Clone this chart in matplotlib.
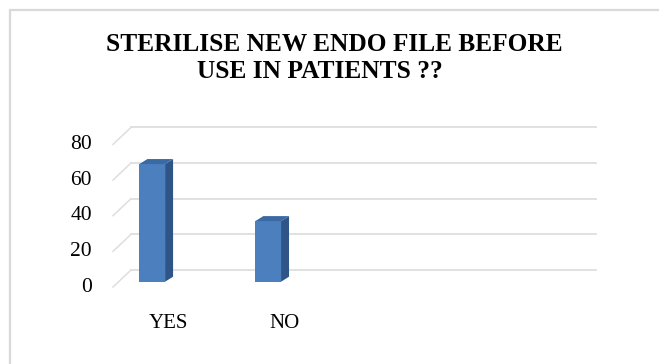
import matplotlib.pyplot as plt
from matplotlib.patches import Rectangle, Polygon

# data
categories = ["YES", "NO"]
values = [66, 34]
n_slots = 4          # the original chart keeps room for 4 categories
y_ticks = [0, 20, 40, 60, 80]
title_1 = "STERILISE NEW ENDO FILE BEFORE"
title_2 = "USE IN PATIENTS ??"

W, H, DPI = 659, 364, 100
fig = plt.figure(figsize=(W / DPI, H / DPI), dpi=DPI)
plt.rcParams['font.family'] = ['Liberation Serif', 'DejaVu Serif']

# front plane of the fake 3D box (pixels)
x_left, x_right = 113, 578
y_zero, y_top = 287, 144.4
ax = fig.add_axes([x_left / W, (H - y_zero) / H, (x_right - x_left) / W, (y_zero - y_top) / H])
xmin, xmax = -0.29, n_slots - 0.28
ax.set_xlim(xmin, xmax)
ax.set_ylim(0, 80)
ax.axis('off')

kx = (x_right - x_left) / (xmax - xmin)   # px per category unit
ky = (y_zero - y_top) / 80                # px per value unit

# wall depth (px)
wall_dx, wall_dy = 18 / kx, 17 / ky
grid_col = '#dedede'

for v in y_ticks:
    # side wall diagonal + back wall line
    ax.plot([xmin, xmin + wall_dx], [v, v + wall_dy], color=grid_col, lw=1.1, clip_on=False, zorder=1)
    ax.plot([xmin + wall_dx, xmax + wall_dx], [v + wall_dy, v + wall_dy], color=grid_col, lw=1.3,
            clip_on=False, zorder=1)
    ax.text(xmin - 21 / kx, v, str(v), ha='right', va='center', fontsize=15.5, color='#000000')

# bars
bw = 25.7 / kx
front_dx, front_dy = 5.6 / kx, 5.3 / ky
side_dx, side_dy = 8 / kx, 5 / ky
c_front, c_side, c_top = '#4b7fbd', '#2f5487', '#3b69a4'
for i, (lab, v) in enumerate(zip(categories, values)):
    x0 = i - bw / 2 + front_dx
    y0 = front_dy
    ax.add_patch(Rectangle((x0, y0), bw, v, facecolor=c_front, edgecolor='none', zorder=3, clip_on=False))
    ax.add_patch(Polygon([(x0 + bw, y0), (x0 + bw + side_dx, y0 + side_dy),
                          (x0 + bw + side_dx, y0 + v + side_dy), (x0 + bw, y0 + v)],
                         closed=True, facecolor=c_side, edgecolor='none', zorder=3, clip_on=False))
    ax.add_patch(Polygon([(x0, y0 + v), (x0 + bw, y0 + v),
                          (x0 + bw + side_dx, y0 + v + side_dy), (x0 + side_dx, y0 + v + side_dy)],
                         closed=True, facecolor=c_top, edgecolor='none', zorder=3, clip_on=False))
    ax.text(i + 22 / kx, -36 / ky, lab, ha='center', va='center', fontsize=15, color='#000000')

# titles
fig.text(334.5 / W, 1 - 44.7 / H, title_1, ha='center', va='center', fontsize=18.3, fontweight='bold')
fig.text(320 / W, 1 - 72 / H, title_2, ha='center', va='center', fontsize=18.3, fontweight='bold')

# chart border (only left and top are inside the image)
fig.patches.append(Rectangle((9.5 / W, -0.1), 1.2, 1.1 - 10 / H, transform=fig.transFigure,
                             fill=False, edgecolor='#d9d9d9', lw=1.6))

fig.savefig('out.png', dpi=DPI, facecolor='white')
